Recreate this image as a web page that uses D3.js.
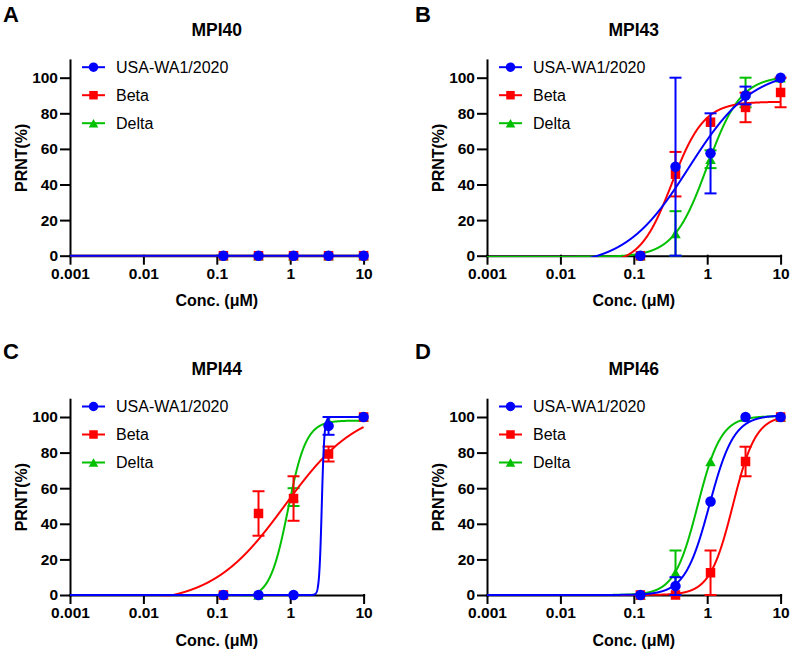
<!DOCTYPE html>
<html><head><meta charset="utf-8">
<script src="https://cdn.jsdelivr.net/npm/d3@7"></script>
<style>body{margin:0;background:#fff}svg{display:block}</style>
</head><body>
<svg id="chart" width="790" height="651"></svg>
<script>
// ---------- DATA ----------
const concentrations = [0.123, 0.37, 1.11, 3.33, 10];
const seriesNames = ["USA-WA1/2020", "Beta", "Delta"];
const seriesColors = ["#0000ff", "#ff0000", "#00c000"];
const xTickValues = [0.001, 0.01, 0.1, 1, 10];
const xTickLabels = ["0.001", "0.01", "0.1", "1", "10"];
const yTickValues = [0, 20, 40, 60, 80, 100];
const panelLetters = ["A", "B", "C", "D"];
const panelTitles = ["MPI40", "MPI43", "MPI44", "MPI46"];

// mean PRNT (%) per series: [USA-WA1/2020, Beta, Delta]
const mpi40Means = [[0,0,0,0,0],[0,0,0,0,0],[0,0,0,0,0]];
const mpi40Errors = [[0,0,0,0,0],[0,0,0,0,0],[0,0,0,0,0]];
const mpi43Means = [[0,50,57.5,90,100],[0,45.8,75,83.3,91.7],[0,12.5,54.2,91.7,100]];
const mpi43Errors = [[0,50,22.5,5,0],[0,12.5,0,8.3,8.3],[0,12.5,5,8.3,0]];
const mpi44Means = [[0,0,0,95,100],[0,45.8,54.2,79.2,100],[0,0,55,97.5,100]];
const mpi44Errors = [[0,0,0,5,0],[0,12.5,12.5,4.2,0],[0,0,5,0,0]];
const mpi46Means = [[0,5,52.5,100,100],[0,0,12.5,75,100],[0,12.5,75,100,100]];
const mpi46Errors = [[0,5,0,0,0],[0,0,12.5,8.3,0],[0,12.5,0,0,0]];

// fitted 4-parameter logistic curves per series: [bottom, top, logEC50, hill]
const mpi40Fits = [[0,0,0,1],[0,0,0,1],[0,0,0,1]];
const mpi43Fits = [[-6,105,-0.25,1.0],[-5,86.5,-0.48,2.0],[-0.7,101,0,1.9]];
const mpi44Fits = [[0,100,0.43,25],[-5,106,-0.07,0.87],[-2,98,-0.03,3.5]];
const mpi46Fits = [[0,101,0.03,2.6],[0,101,0.35,2.77],[0,100.5,-0.13,2.73]];

const panelMeans = [mpi40Means, mpi43Means, mpi44Means, mpi46Means];
const panelErrors = [mpi40Errors, mpi43Errors, mpi44Errors, mpi46Errors];
const panelFits = [mpi40Fits, mpi43Fits, mpi44Fits, mpi46Fits];

// ---------- LAYOUT ----------
const FONT = "'Liberation Sans', Arial, Helvetica, sans-serif";
const layout = [
  {left: 70,  bottom: 255.7, letterX: 3,   letterY: 22},
  {left: 487, bottom: 255.7, letterX: 415, letterY: 22},
  {left: 70,  bottom: 595,   letterX: 3,   letterY: 359},
  {left: 487, bottom: 595,   letterX: 415, letterY: 359}
];
const plotW = 293.6, h100 = 178;

const svg = d3.select("#chart");
svg.append("rect").attr("width", 790).attr("height", 651).attr("fill", "#fff");

function marker(g, type, cx, cy, s, color) {
  if (type === 0) {
    g.append("circle").attr("cx", cx).attr("cy", cy).attr("r", s / 2).attr("fill", color);
  } else if (type === 1) {
    g.append("rect").attr("x", cx - s / 2).attr("y", cy - s / 2).attr("width", s).attr("height", s).attr("fill", color);
  } else {
    const hh = s * 0.9;
    g.append("path").attr("d", `M${cx - s / 2},${cy + hh / 2}L${cx + s / 2},${cy + hh / 2}L${cx},${cy - hh / 2}Z`).attr("fill", color);
  }
}

panelTitles.forEach((title, p) => {
  const L = layout[p];
  const x = d3.scaleLog().domain([0.001, 10]).range([L.left, L.left + plotW]);
  const y = d3.scaleLinear().domain([0, 100]).range([L.bottom, L.bottom - h100]);
  const g = svg.append("g");

  // panel letter & title
  g.append("text").attr("x", L.letterX).attr("y", L.letterY).text(panelLetters[p])
    .attr("font-family", FONT).attr("font-weight", "bold").attr("font-size", 22);
  g.append("text").attr("x", L.left + plotW / 2).attr("y", L.bottom - 220).text(title)
    .attr("text-anchor", "middle").attr("font-family", FONT).attr("font-weight", "bold").attr("font-size", 17.5);

  // axes
  const yAxis = g.append("g").attr("transform", `translate(${L.left},0)`)
    .call(d3.axisLeft(d3.scaleLinear().domain([0, 110]).range([L.bottom, y(110)]))
      .tickValues(yTickValues).tickSize(9).tickSizeOuter(0).tickPadding(3));
  const xAxis = g.append("g").attr("transform", `translate(0,${L.bottom})`)
    .call(d3.axisBottom(x).tickValues(xTickValues).tickFormat((d, i) => xTickLabels[i])
      .tickSize(8).tickSizeOuter(0).tickPadding(4));
  [xAxis, yAxis].forEach(a => {
    a.selectAll("path,line").attr("stroke", "#000").attr("stroke-width", 2).attr("stroke-linecap", "square");
    a.selectAll("text").attr("font-family", FONT).attr("font-weight", "bold").attr("font-size", 15.5).attr("fill", "#000");
  });

  // axis labels
  g.append("text").attr("x", L.left + plotW / 2).attr("y", L.bottom + 50.5).text("Conc. (\u03bcM)")
    .attr("text-anchor", "middle").attr("font-family", FONT).attr("font-weight", "bold").attr("font-size", 16);
  g.append("text").attr("transform", `translate(${L.left - 43.5},${(L.bottom + y(110)) / 2}) rotate(-90)`)
    .text("PRNT(%)").attr("text-anchor", "middle").attr("font-family", FONT).attr("font-weight", "bold").attr("font-size", 16);

  // clip
  const clipId = "clip" + p;
  svg.append("clipPath").attr("id", clipId).append("rect")
    .attr("x", L.left - 1).attr("y", y(110)).attr("width", plotW + 2).attr("height", L.bottom - y(110) + 1.3);

  const line = d3.line().x(d => x(d[0])).y(d => y(d[1]));
  const logGrid = d3.range(-3, 1.0001, 0.002);

  // draw series: Delta, Beta, then USA on top
  [2, 1, 0].forEach(s => {
    const color = seriesColors[s];
    const [b, t, c, hill] = panelFits[p][s];
    const pts = logGrid.map(lx => [Math.pow(10, lx), b + (t - b) / (1 + Math.pow(10, (c - lx) * hill))]);
    g.append("path").attr("d", line(pts)).attr("fill", "none").attr("stroke", color)
      .attr("stroke-width", 2).attr("clip-path", `url(#${clipId})`);
    const means = panelMeans[p][s], errs = panelErrors[p][s];
    concentrations.forEach((cx, i) => {
      const e = errs[i];
      if (e > 0) {
        const px = x(cx), y1 = y(means[i] - e), y2 = y(means[i] + e);
        g.append("line").attr("x1", px).attr("x2", px).attr("y1", y1).attr("y2", y2).attr("stroke", color).attr("stroke-width", 2);
        [y1, y2].forEach(yy => g.append("line").attr("x1", px - 6).attr("x2", px + 6).attr("y1", yy).attr("y2", yy)
          .attr("stroke", color).attr("stroke-width", 2));
      }
    });
    concentrations.forEach((cx, i) => marker(g, s, x(cx), y(means[i]), s === 1 ? 9.5 : 10.5, color));
  });

  // legend
  seriesNames.forEach((name, s) => {
    const ly = y(100) - 10.5 + s * 28;
    g.append("line").attr("x1", L.left + 12).attr("x2", L.left + 35).attr("y1", ly).attr("y2", ly)
      .attr("stroke", seriesColors[s]).attr("stroke-width", 2);
    marker(g, s, L.left + 23.5, ly, s === 1 ? 8.5 : 9.5, seriesColors[s]);
    g.append("text").attr("x", L.left + 46).attr("y", ly + 5.5).text(name)
      .attr("font-family", FONT).attr("font-size", 16).attr("fill", "#000");
  });
});
</script>
</body></html>
